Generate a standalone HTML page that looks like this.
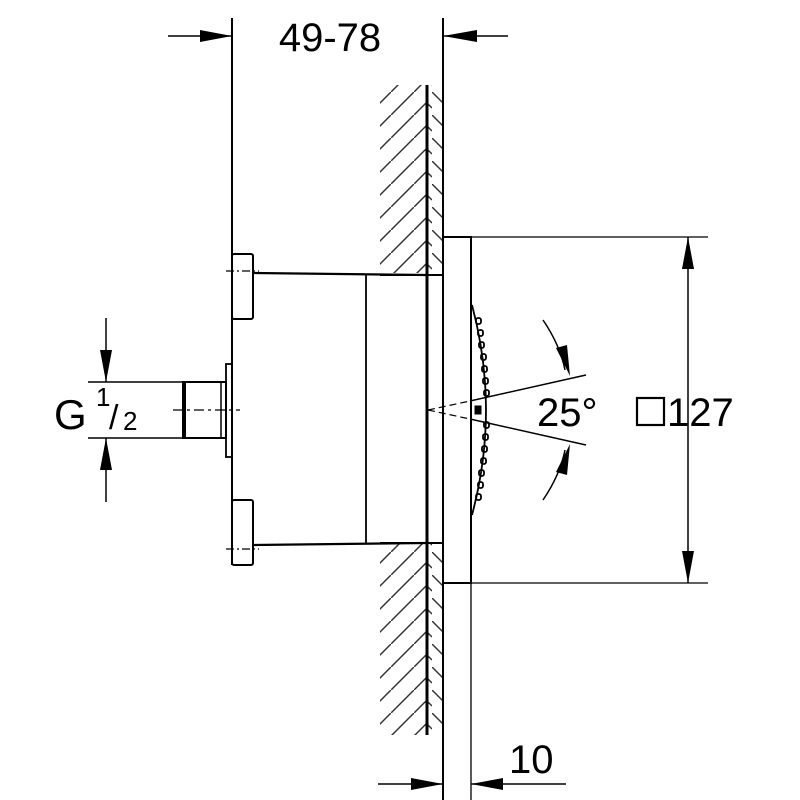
<!DOCTYPE html>
<html><head><meta charset="utf-8"><style>body{margin:0;background:#fff}svg{display:block}</style></head>
<body>
<svg width="800" height="800" viewBox="0 0 800 800" xmlns="http://www.w3.org/2000/svg" font-family="Liberation Sans, sans-serif">
<defs>
<pattern id="h1" width="23" height="23" patternUnits="userSpaceOnUse"><path d="M-2,25 L25,-2" stroke="#333" stroke-width="1.5"/></pattern>
<pattern id="h2" width="16" height="23" patternUnits="userSpaceOnUse"><path d="M0,0 L16,16" stroke="#333" stroke-width="1.5"/></pattern>
</defs>
<g fill="none" stroke="#000">
<rect x="380" y="85" width="47" height="188" fill="url(#h1)" stroke="none"/>
<rect x="380" y="544" width="47" height="191" fill="url(#h1)" stroke="none"/>
<rect x="427" y="85" width="16" height="188" fill="url(#h2)" stroke="none"/>
<rect x="427" y="544" width="16" height="191" fill="url(#h2)" stroke="none"/>
<line x1="427" y1="85" x2="427" y2="735" stroke-width="3"/>
<line x1="443" y1="18" x2="443" y2="800" stroke-width="2"/>
<line x1="232" y1="18" x2="232" y2="565" stroke-width="2"/>
<line x1="253" y1="273" x2="427" y2="275" stroke-width="2.2"/>
<line x1="253" y1="545" x2="427" y2="543" stroke-width="2.2"/>
<line x1="366" y1="275" x2="366" y2="544" stroke-width="1.8"/>
<line x1="380" y1="275" x2="443" y2="275" stroke-width="2"/>
<line x1="380" y1="543" x2="443" y2="543" stroke-width="2"/>
<rect x="232" y="254" width="21" height="65" stroke-width="2" rx="2"/>
<rect x="232" y="500" width="21" height="65" stroke-width="2" rx="2"/>
<line x1="226" y1="271" x2="259" y2="271" stroke-width="1.2" stroke-dasharray="8,3,2,3"/>
<line x1="226" y1="549" x2="259" y2="549" stroke-width="1.2" stroke-dasharray="8,3,2,3"/>
<rect x="226" y="364" width="6" height="93" stroke-width="1.8"/>
<rect x="183" y="382" width="43" height="56" stroke-width="2"/>
<line x1="184" y1="382" x2="184" y2="438" stroke-width="4"/>
<line x1="221" y1="382" x2="221" y2="438" stroke-width="1.5"/>
<line x1="173" y1="410" x2="240" y2="410" stroke-width="1.2" stroke-dasharray="10,4,3,4"/>
<rect x="443" y="237" width="28" height="346" stroke-width="2"/>
<line x1="471" y1="237" x2="708" y2="237" stroke-width="1.3"/>
<line x1="471" y1="583" x2="708" y2="583" stroke-width="1.3"/>
<line x1="471" y1="583" x2="471" y2="800" stroke-width="1.3"/>
<path d="M472,305 Q500,410 472,515" stroke-width="1.8"/>
<g stroke-width="1.8">
<rect x="476" y="318" width="5" height="6" rx="2"/><rect x="478" y="330" width="5" height="6" rx="2"/><rect x="479" y="342" width="5" height="6" rx="2"/><rect x="481" y="354" width="5" height="6" rx="2"/><rect x="482" y="366" width="5" height="6" rx="2"/><rect x="483" y="378" width="5" height="6" rx="2"/><rect x="484" y="390" width="5" height="6" rx="2"/>
<rect x="484" y="422" width="5" height="6" rx="2"/><rect x="483" y="434" width="5" height="6" rx="2"/><rect x="482" y="446" width="5" height="6" rx="2"/><rect x="481" y="458" width="5" height="6" rx="2"/><rect x="479" y="470" width="5" height="6" rx="2"/><rect x="478" y="482" width="5" height="6" rx="2"/><rect x="476" y="494" width="5" height="6" rx="2"/>
</g>
<rect x="475" y="406" width="6" height="8" fill="#000"/>
<line x1="428" y1="410" x2="470" y2="401" stroke-width="1.2" stroke-dasharray="7,4"/>
<line x1="428" y1="410" x2="470" y2="419" stroke-width="1.2" stroke-dasharray="7,4"/>
<line x1="470" y1="401" x2="586" y2="375" stroke-width="1.5"/>
<line x1="470" y1="419" x2="586" y2="445" stroke-width="1.5"/>
<path d="M543,320 Q560,345 565,370" stroke-width="1.5"/>
<path d="M543,500 Q560,475 565,450" stroke-width="1.5"/>
<line x1="168" y1="36" x2="232" y2="36" stroke-width="1.5"/>
<line x1="443" y1="36" x2="508" y2="36" stroke-width="1.5"/>
<line x1="378" y1="784" x2="443" y2="784" stroke-width="1.5"/>
<line x1="471" y1="784" x2="566" y2="784" stroke-width="1.5"/>
<line x1="688" y1="237" x2="688" y2="583" stroke-width="1.5"/>
<line x1="106" y1="318" x2="106" y2="382" stroke-width="1.5"/>
<line x1="106" y1="438" x2="106" y2="502" stroke-width="1.5"/>
<line x1="88" y1="382" x2="183" y2="382" stroke-width="1.5"/>
<line x1="88" y1="438" x2="183" y2="438" stroke-width="1.5"/>
<rect x="637" y="398" width="27" height="27" stroke-width="2.2"/>
</g>
<g fill="#000">
<path d="M232,36 L200,30 L200,42Z"/>
<path d="M443,36 L477,30 L477,42Z"/>
<path d="M443,784 L411,778 L411,790Z"/>
<path d="M471,784 L503,778 L503,790Z"/>
<path d="M688,237 L682,269 L694,269Z"/>
<path d="M688,583 L682,551 L694,551Z"/>
<path d="M106,382 L100,350 L112,350Z"/>
<path d="M106,438 L100,470 L112,470Z"/>
<path d="M570,376 L556,348 L567,345Z"/>
<path d="M570,444 L556,472 L567,475Z"/>
</g>
<g fill="#000">
<text x="330" y="51" font-size="40" text-anchor="middle">49-78</text>
<text x="537" y="426" font-size="40">25°</text>
<text x="667" y="426" font-size="40">127</text>
<text x="54" y="429" font-size="42">G</text>
<text x="96" y="406" font-size="26">1</text>
<text x="109" y="429" font-size="34">/</text>
<text x="123" y="430" font-size="26">2</text>
<text x="509" y="773" font-size="40">10</text>
</g>
</svg>
</body></html>
